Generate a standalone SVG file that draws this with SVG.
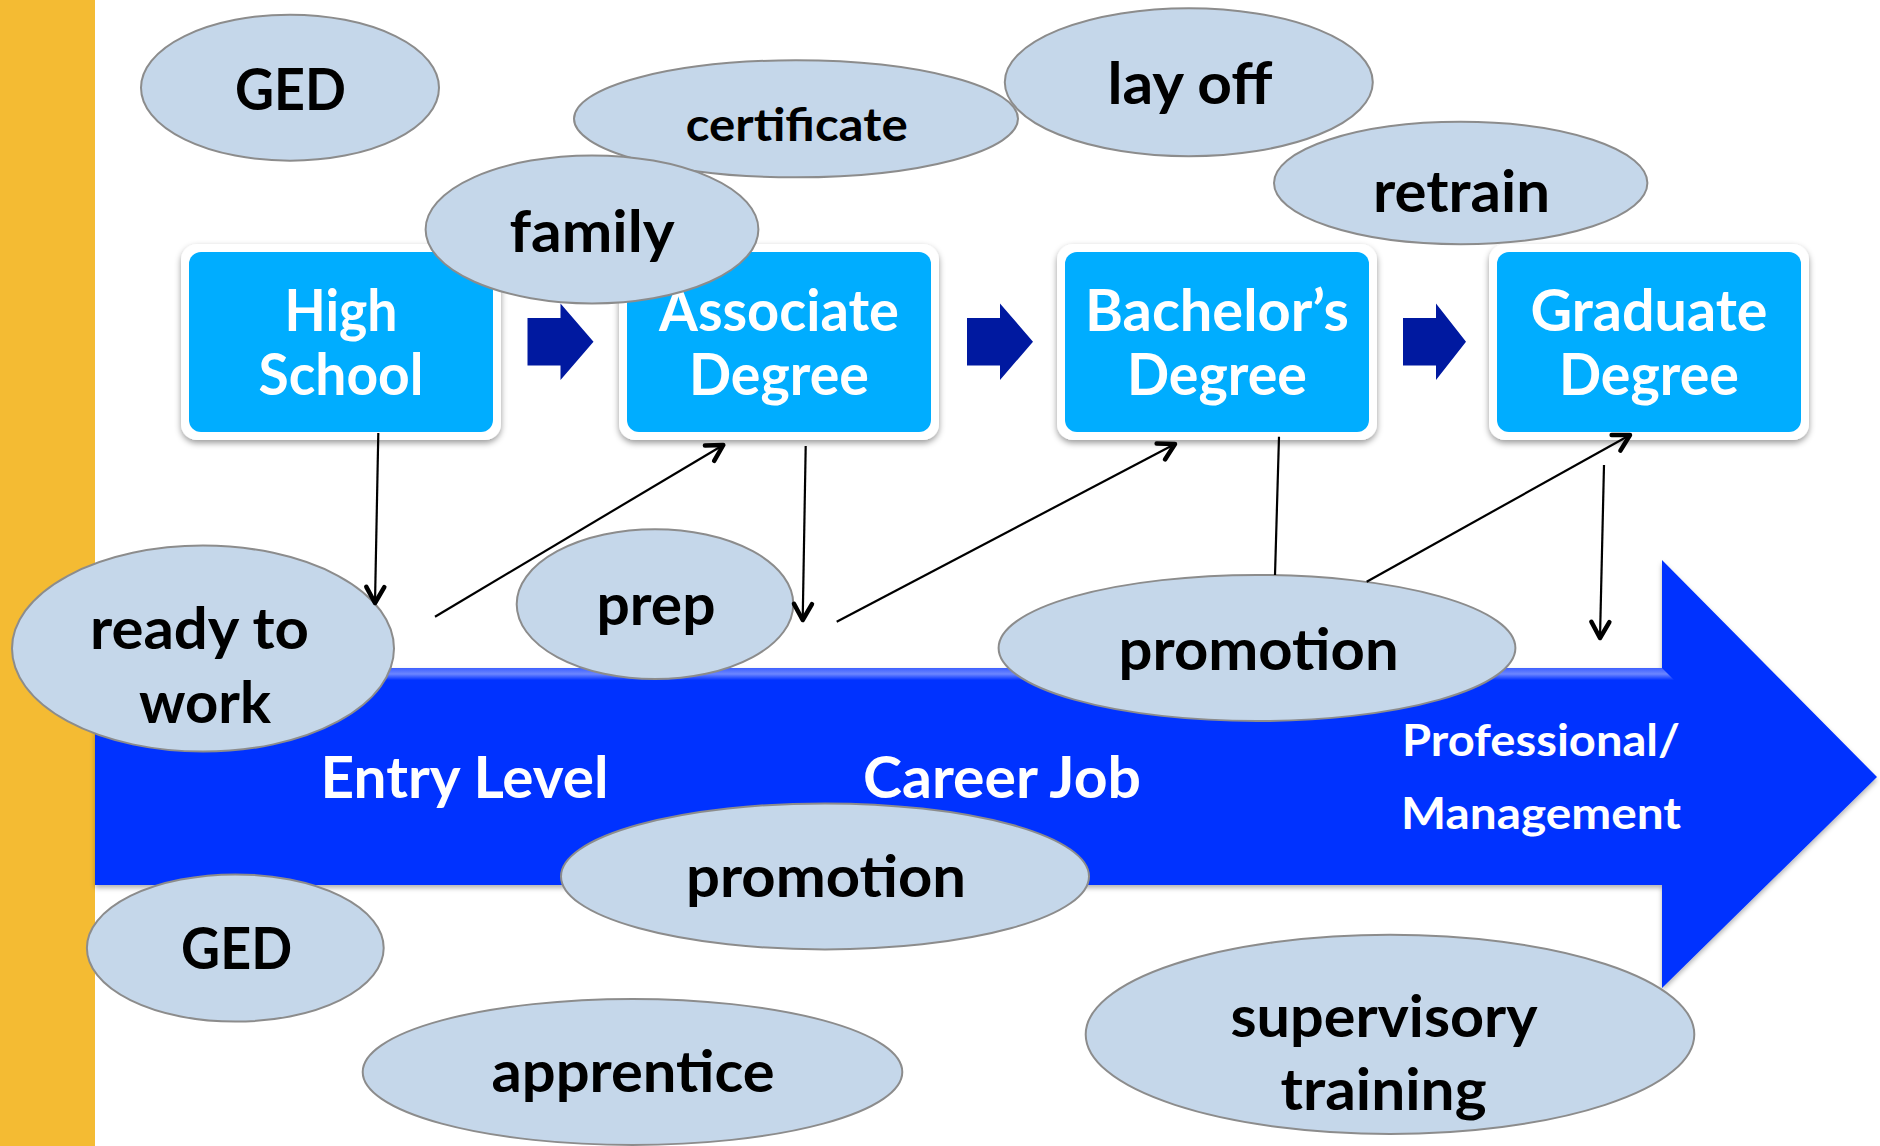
<svg xmlns="http://www.w3.org/2000/svg" width="1880" height="1146" viewBox="0 0 1880 1146">
  <defs>
    <style>
      text { font-family: Lato, "Open Sans", "Liberation Sans", sans-serif; font-weight: 700; text-anchor: middle; }
      .bub { fill: #C5D7EA; stroke: #8C8C8C; stroke-width: 2; }
      .bt { fill: #000000; font-size: 57px; }
      .wt { fill: #FFFFFF; font-size: 57px; }
      .box { fill: #00ADFF; }
      .frame { fill: #FFFFFF; }
      .step { fill: #0019A0; }
      .con { stroke: #000000; stroke-width: 2.2; fill: none; }
    </style>
    <filter id="sh" x="-10%" y="-10%" width="120%" height="130%">
      <feDropShadow dx="0" dy="3" stdDeviation="3" flood-color="#000000" flood-opacity="0.4"/>
    </filter>
    <filter id="ash" x="-5%" y="-10%" width="110%" height="125%">
      <feDropShadow dx="0" dy="3" stdDeviation="2.5" flood-color="#000000" flood-opacity="0.3"/>
    </filter>
    <linearGradient id="topHi" x1="0" y1="0" x2="0" y2="1">
      <stop offset="0" stop-color="#3D5FFF"/>
      <stop offset="0.5" stop-color="#6C86FF"/>
      <stop offset="1" stop-color="#0433FF"/>
    </linearGradient>
    <marker id="ah" markerUnits="userSpaceOnUse" markerWidth="26" markerHeight="26" viewBox="0 0 26 26" refX="21" refY="13" orient="auto">
      <path d="M5,4 L21,13 L5,22" fill="none" stroke="#000000" stroke-width="4.5" stroke-linecap="round" stroke-linejoin="round"/>
    </marker>
  </defs>

  <rect x="0" y="0" width="1880" height="1146" fill="#FFFFFF"/>

  <g id="sidebar">
    <rect x="0" y="0" width="95" height="1146" fill="#F4BB33"/>
  </g>

  <g id="career-arrow">
    <polygon points="95,668 1662,668 1662,560 1877,777 1662,988 1662,885 95,885" fill="#0433FF" filter="url(#ash)"/>
    <polygon points="95,668 1662,668 1674,680 95,680" fill="url(#topHi)"/>
    <text class="wt" x="464.6" y="797.8" textLength="288" lengthAdjust="spacingAndGlyphs">Entry Level</text>
    <text class="wt" x="1002" y="797.8" textLength="278" lengthAdjust="spacingAndGlyphs">Career Job</text>
    <text class="wt" x="1541" y="755.7" style="font-size:43px" textLength="278" lengthAdjust="spacingAndGlyphs">Professional/</text>
    <text class="wt" x="1541" y="828.8" style="font-size:43px" textLength="280" lengthAdjust="spacingAndGlyphs">Management</text>
  </g>

  <g id="high-school">
    <rect class="frame" x="181" y="244" width="320" height="196" rx="16" filter="url(#sh)"/>
    <rect class="box" x="189" y="252" width="304" height="180" rx="12"/>
    <text class="wt" x="341" y="331" textLength="113" lengthAdjust="spacingAndGlyphs">High</text>
    <text class="wt" x="341" y="394.5" textLength="165" lengthAdjust="spacingAndGlyphs">School</text>
  </g>

  <g id="associate-degree">
    <rect class="frame" x="619" y="244" width="320" height="196" rx="16" filter="url(#sh)"/>
    <rect class="box" x="627" y="252" width="304" height="180" rx="12"/>
    <text class="wt" x="779" y="331" textLength="240" lengthAdjust="spacingAndGlyphs">Associate</text>
    <text class="wt" x="779" y="394.5" textLength="180" lengthAdjust="spacingAndGlyphs">Degree</text>
  </g>

  <g id="bachelors-degree">
    <rect class="frame" x="1057" y="244" width="320" height="196" rx="16" filter="url(#sh)"/>
    <rect class="box" x="1065" y="252" width="304" height="180" rx="12"/>
    <text class="wt" x="1217" y="331" textLength="264" lengthAdjust="spacingAndGlyphs">Bachelor’s</text>
    <text class="wt" x="1217" y="394.5" textLength="180" lengthAdjust="spacingAndGlyphs">Degree</text>
  </g>

  <g id="graduate-degree">
    <rect class="frame" x="1489" y="244" width="320" height="196" rx="16" filter="url(#sh)"/>
    <rect class="box" x="1497" y="252" width="304" height="180" rx="12"/>
    <text class="wt" x="1649" y="331" textLength="237" lengthAdjust="spacingAndGlyphs">Graduate</text>
    <text class="wt" x="1649" y="394.5" textLength="180" lengthAdjust="spacingAndGlyphs">Degree</text>
  </g>

  <g id="step-arrows">
    <polygon class="step" points="527.5,318 560.5,318 560.5,303.5 593.5,341.7 560.5,380 560.5,365.5 527.5,365.5"/>
    <polygon class="step" points="967,318 1000,318 1000,303.5 1033,341.7 1000,380 1000,365.5 967,365.5"/>
    <polygon class="step" points="1403,318 1436,318 1436,303.5 1466,341.7 1436,380 1436,365.5 1403,365.5"/>
  </g>

  <g id="ged-top">
    <ellipse class="bub" cx="290" cy="87.7" rx="149" ry="73"/>
    <text class="bt" x="290.5" y="109.6" textLength="111" lengthAdjust="spacingAndGlyphs">GED</text>
  </g>

  <g id="certificate">
    <ellipse class="bub" cx="796" cy="118.8" rx="222" ry="58.5"/>
    <text class="bt" x="796.7" y="140.7" style="font-size:45px" textLength="222" lengthAdjust="spacingAndGlyphs">certificate</text>
  </g>

  <g id="lay-off">
    <ellipse class="bub" cx="1188.8" cy="82.2" rx="184" ry="74"/>
    <text class="bt" x="1190" y="104" textLength="165" lengthAdjust="spacingAndGlyphs">lay off</text>
  </g>

  <g id="retrain">
    <ellipse class="bub" cx="1460.7" cy="183" rx="186.7" ry="61.2"/>
    <text class="bt" x="1461.6" y="212" textLength="177" lengthAdjust="spacingAndGlyphs">retrain</text>
  </g>

  <g id="family">
    <ellipse class="bub" cx="592" cy="229.4" rx="166.4" ry="74"/>
    <text class="bt" x="592" y="251.5" textLength="165" lengthAdjust="spacingAndGlyphs">family</text>
  </g>

  <g id="ready-to-work">
    <ellipse class="bub" cx="203" cy="648.6" rx="191" ry="103"/>
    <text class="bt" x="199.5" y="649" textLength="219" lengthAdjust="spacingAndGlyphs">ready to</text>
    <text class="bt" x="205" y="723" textLength="132" lengthAdjust="spacingAndGlyphs">work</text>
  </g>

  <g id="prep">
    <ellipse class="bub" cx="655" cy="604.2" rx="138.3" ry="74.9"/>
    <text class="bt" x="656" y="624.5" textLength="119" lengthAdjust="spacingAndGlyphs">prep</text>
  </g>

  <g id="promotion-upper">
    <ellipse class="bub" cx="1257" cy="648" rx="258.4" ry="73"/>
    <text class="bt" x="1258.6" y="669.9" textLength="280" lengthAdjust="spacingAndGlyphs">promotion</text>
  </g>

  <g id="promotion-lower">
    <ellipse class="bub" cx="825" cy="876.4" rx="264" ry="73"/>
    <text class="bt" x="826" y="896.5" textLength="280" lengthAdjust="spacingAndGlyphs">promotion</text>
  </g>

  <g id="ged-lower">
    <ellipse class="bub" cx="235.3" cy="948" rx="148.4" ry="73.6"/>
    <text class="bt" x="236.6" y="968.8" textLength="111" lengthAdjust="spacingAndGlyphs">GED</text>
  </g>

  <g id="apprentice">
    <ellipse class="bub" cx="632.5" cy="1072" rx="269.8" ry="73"/>
    <text class="bt" x="633" y="1092" textLength="283" lengthAdjust="spacingAndGlyphs">apprentice</text>
  </g>

  <g id="supervisory-training">
    <ellipse class="bub" cx="1390" cy="1034.4" rx="304.3" ry="99.6"/>
    <text class="bt" x="1384" y="1037.2" textLength="307" lengthAdjust="spacingAndGlyphs">supervisory</text>
    <text class="bt" x="1383.6" y="1110.3" textLength="206" lengthAdjust="spacingAndGlyphs">training</text>
  </g>

  <g id="connectors">
    <line class="con" x1="378.3" y1="433" x2="375" y2="603" marker-end="url(#ah)"/>
    <line class="con" x1="435" y1="616.7" x2="723.3" y2="445" marker-end="url(#ah)"/>
    <line class="con" x1="805.7" y1="446" x2="802.7" y2="620" marker-end="url(#ah)"/>
    <line class="con" x1="836.7" y1="621.7" x2="1175" y2="444" marker-end="url(#ah)"/>
    <line class="con" x1="1279" y1="436.7" x2="1275" y2="575"/>
    <line class="con" x1="1366.7" y1="581.7" x2="1630" y2="435" marker-end="url(#ah)"/>
    <line class="con" x1="1604" y1="465" x2="1600" y2="638" marker-end="url(#ah)"/>
  </g>
</svg>
